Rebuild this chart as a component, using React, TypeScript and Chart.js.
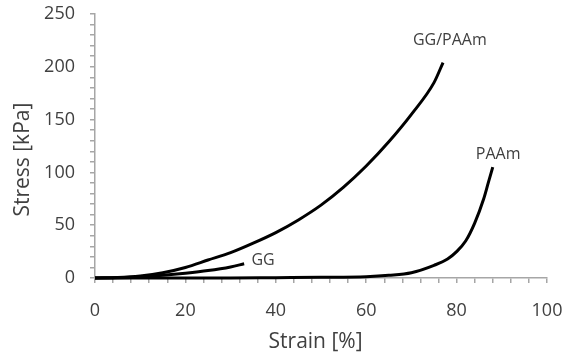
import React, { useEffect, useRef } from "react";
import { Chart, registerables } from "chart.js";

Chart.register(...registerables);

const ggPaamStrain = [0, 5, 10, 15, 20, 25, 30, 35, 40, 45, 50, 55, 60, 65, 70, 75, 77];
const ggPaamStress = [0, 0.5, 2, 5, 10, 17, 24, 33, 43, 55, 69, 86, 106, 129, 155, 185, 204];

const ggStrain = [0, 5, 10, 15, 20, 25, 30, 33];
const ggStress = [0, 0.3, 1, 2.5, 4.5, 7, 10.5, 13.5];

const paamStrain = [0, 10, 20, 30, 40, 50, 60, 65, 70, 75, 78, 80, 82, 84, 86, 87, 88];
const paamStress = [0, 0, 0, 0, 0.3, 0.6, 1.2, 2.5, 5, 12, 18, 25, 35, 52, 75, 90, 105];

const labelTexts = ["GG/PAAm", "PAAm", "GG"];
const labelAnchors = [
  { x: 78.5, y: 225, align: "center" },
  { x: 89.2, y: 117, align: "center" },
  { x: 34.6, y: 17, align: "left" },
];

const xTickLabels = [0, 20, 40, 60, 80, 100];
const yTickLabels = [0, 50, 100, 150, 200, 250];

const FONT = "'Open Sans', sans-serif";
const TEXT = "#404040";
const AXIS = "#a6a6a6";

const toPts = (xs: number[], ys: number[]) => xs.map((x, i) => ({ x, y: ys[i] }));

const annotationPlugin = {
  id: "curveLabels",
  afterDatasetsDraw(chart: any) {
    const { ctx, scales } = chart;
    ctx.save();
    ctx.fillStyle = TEXT;
    ctx.font = `16px ${FONT}`;
    ctx.textBaseline = "middle";
    labelTexts.forEach((t, i) => {
      const a = labelAnchors[i];
      ctx.textAlign = a.align;
      ctx.fillText(t, scales.x.getPixelForValue(a.x), scales.y.getPixelForValue(a.y));
    });
    ctx.restore();
  },
};

export default function App() {
  const ref = useRef<HTMLCanvasElement>(null);
  useEffect(() => {
    if (!ref.current) return;
    const lineDs = (data: any) => ({
      data,
      borderColor: "#000",
      borderWidth: 3,
      pointRadius: 0,
      fill: false,
      cubicInterpolationMode: "monotone",
      clip: false,
    });
    const chart = new Chart(ref.current, {
      type: "line",
      data: {
        datasets: [
          lineDs(toPts(ggPaamStrain, ggPaamStress)),
          lineDs(toPts(ggStrain, ggStress)),
          lineDs(toPts(paamStrain, paamStress)),
        ] as any,
      },
      options: {
        animation: false,
        responsive: false,
        layout: { padding: { top: 14, right: 15, left: 0, bottom: 0 } },
        plugins: { legend: { display: false }, tooltip: { enabled: false } },
        scales: {
          x: {
            type: "linear",
            min: 0,
            max: 100,
            afterFit: (s: any) => { s.height = 80; s.paddingLeft = 0; s.paddingRight = 0; },
            border: { display: true, color: AXIS, width: 1.5 },
            grid: { drawOnChartArea: false, drawTicks: true, tickLength: 5, color: AXIS, lineWidth: 1.5 },
            ticks: {
              stepSize: 4,
              autoSkip: false,
              maxRotation: 0,
              padding: 17,
              color: TEXT,
              font: { family: FONT, size: 18 },
              callback: (v: any) => (xTickLabels.includes(Number(v)) ? String(v) : ""),
            },
            title: {
              display: true,
              text: "Strain [%]\u00a0\u00a0",
              color: TEXT,
              font: { family: FONT, size: 21 },
              padding: { top: 0, bottom: 3 },
            },
          },
          y: {
            type: "linear",
            min: 0,
            max: 250,
            afterFit: (s: any) => { s.width = 95; s.paddingTop = 0; s.paddingBottom = 0; },
            border: { display: true, color: AXIS, width: 1.5 },
            grid: { drawOnChartArea: false, drawTicks: true, tickLength: 5, color: AXIS, lineWidth: 1.5 },
            ticks: {
              stepSize: 10,
              autoSkip: false,
              padding: 15,
              color: TEXT,
              font: { family: FONT, size: 18 },
              callback: (v: any) => (yTickLabels.includes(Number(v)) ? String(v) : ""),
            },
            title: {
              display: true,
              text: "Stress [kPa]\u00a0\u00a0\u00a0\u00a0\u00a0",
              color: TEXT,
              font: { family: FONT, size: 21 },
              padding: { top: 10, bottom: 0 },
            },
          },
        },
      } as any,
      plugins: [annotationPlugin],
    });
    return () => chart.destroy();
  }, []);
  return (
    <div style={{ position: "fixed", left: 0, top: 0, width: 562, height: 358, background: "#fff" }}>
      <canvas ref={ref} width={562} height={358} />
    </div>
  );
}
